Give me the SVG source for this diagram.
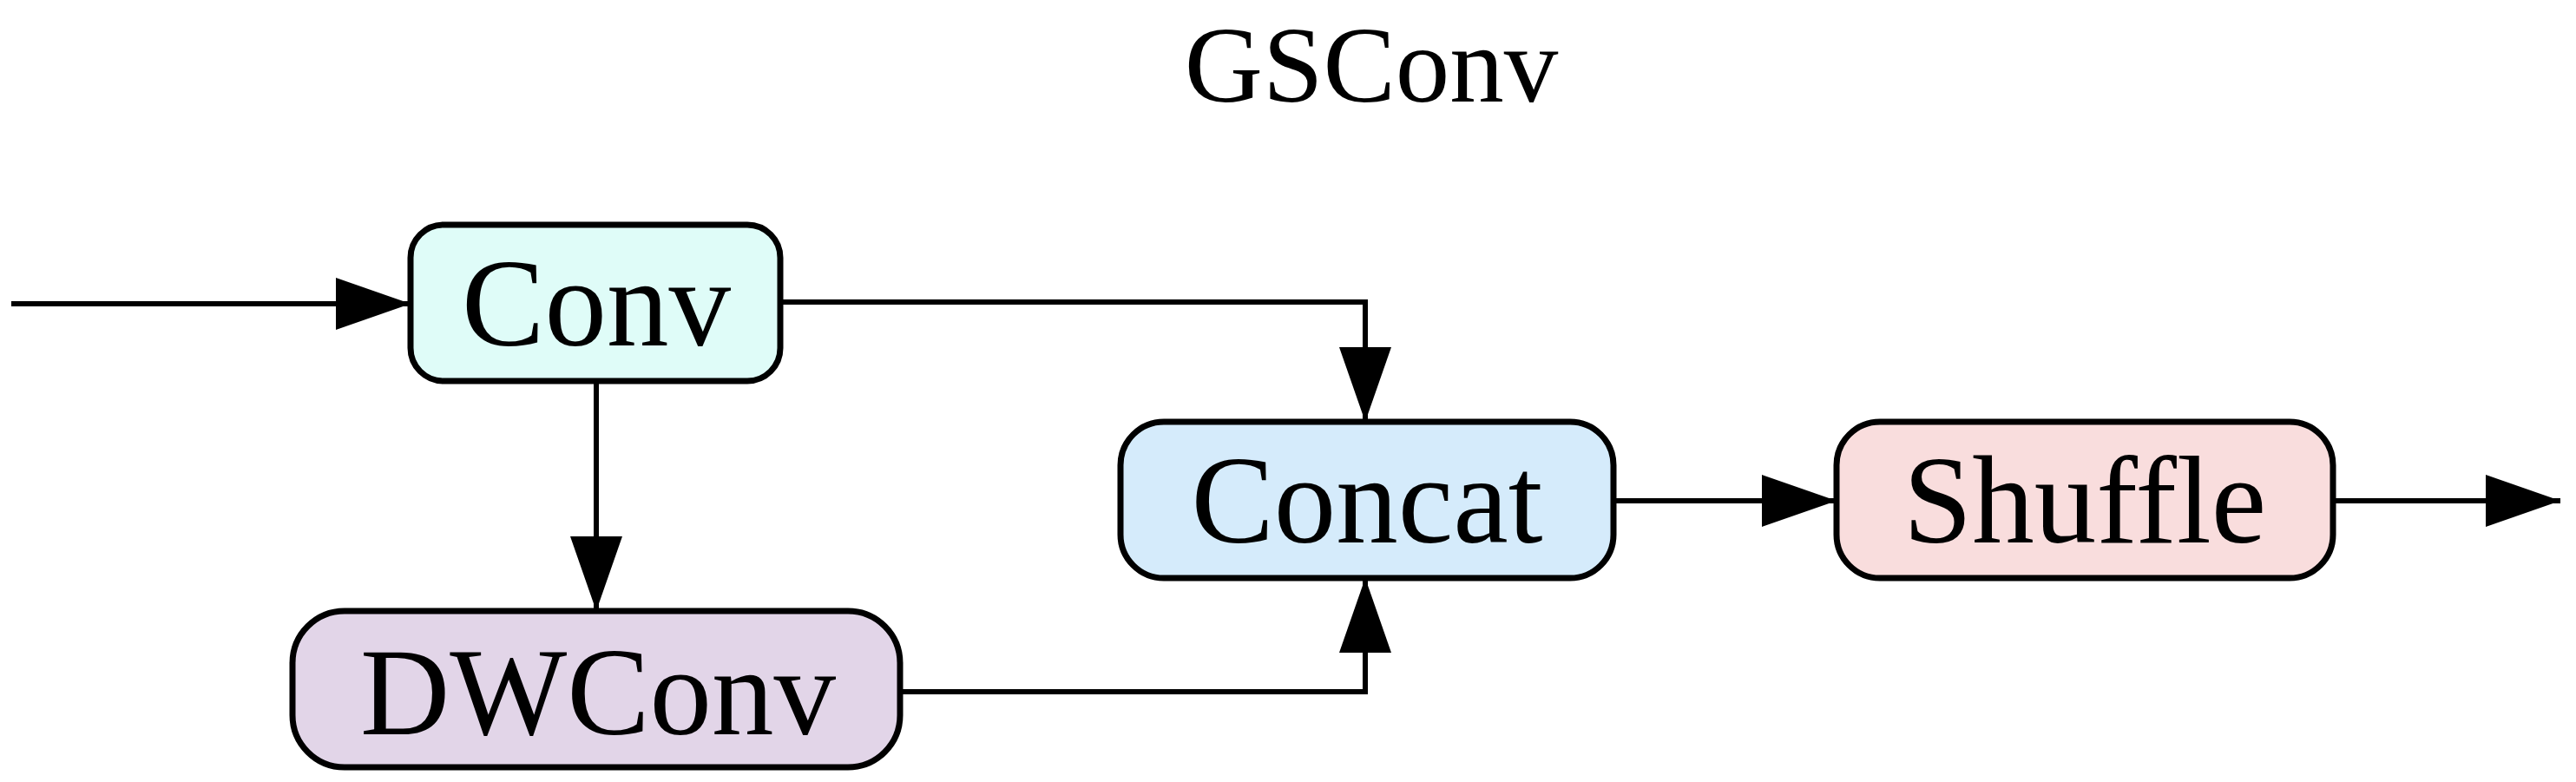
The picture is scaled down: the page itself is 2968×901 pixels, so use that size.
<svg xmlns="http://www.w3.org/2000/svg" width="2968" height="901" viewBox="0 0 2968 901">
<defs>
<style>
.box{stroke:#000;stroke-width:7}
.t{font-family:"Liberation Serif","Times New Roman",serif;font-size:143px;text-anchor:middle;fill:#000}
.c{fill:none;stroke:#000;stroke-width:6}
</style>
<marker id="ah" markerUnits="userSpaceOnUse" markerWidth="86" markerHeight="60" refX="86" refY="30" orient="auto">
<path d="M0,0 L86,30 L0,60 Z" fill="#000"/>
</marker>
</defs>
<rect width="2968" height="901" fill="#fff"/>
<text class="t" x="1580" y="117" style="font-size:125px">GSConv</text>
<g id="connectors">
<path class="c" d="M13,350 H473" marker-end="url(#ah)"/>
<path class="c" d="M687,439 V704" marker-end="url(#ah)"/>
<path class="c" d="M899,348 H1573 V486" marker-end="url(#ah)"/>
<path class="c" d="M1037,797 H1573 V666" marker-end="url(#ah)"/>
<path class="c" d="M1859,577 H2116" marker-end="url(#ah)"/>
<path class="c" d="M2688,577 H2950" marker-end="url(#ah)"/>
</g>
<g id="conv"><rect class="box" x="473" y="259" width="426" height="180" rx="38" fill="#dffcf8"/><text class="t" x="687" y="398">Conv</text></g>
<g id="dwconv"><rect class="box" x="337" y="704" width="700" height="180" rx="60" fill="#e2d5e8"/><text class="t" x="689" y="846">DWConv</text></g>
<g id="concat"><rect class="box" x="1291" y="486" width="568" height="180" rx="50" fill="#d5ebfb"/><text class="t" x="1575" y="625">Concat</text></g>
<g id="shuffle"><rect class="box" x="2116" y="486" width="572" height="180" rx="50" fill="#f9dddd"/><text class="t" x="2402" y="625">Shuffle</text></g>
</svg>
